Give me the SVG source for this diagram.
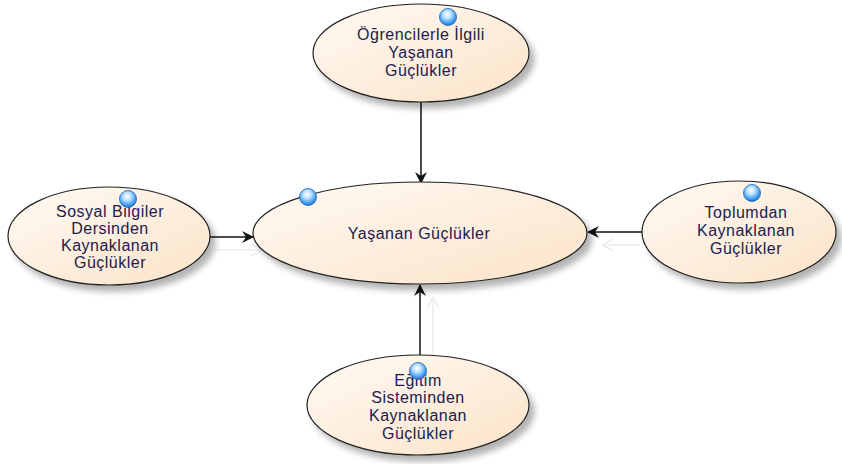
<svg xmlns="http://www.w3.org/2000/svg" width="842" height="464" viewBox="0 0 842 464">
<defs>
<linearGradient id="fillG" x1="0" y1="0" x2="1" y2="1">
<stop offset="0" stop-color="#fffaf4"/>
<stop offset="1" stop-color="#fbe3c8"/>
</linearGradient>
<radialGradient id="ball" cx="0.45" cy="0.35" r="0.65">
<stop offset="0" stop-color="#ffffff"/>
<stop offset="0.35" stop-color="#bfe3ff"/>
<stop offset="0.8" stop-color="#3a9af0"/>
<stop offset="1" stop-color="#1a6fd0"/>
</radialGradient>
<filter id="sh" x="-20%" y="-20%" width="150%" height="160%">
<feGaussianBlur in="SourceAlpha" stdDeviation="3"/>
<feOffset dx="5" dy="6" result="b"/>
<feComponentTransfer><feFuncA type="linear" slope="0.3"/></feComponentTransfer>
<feMerge><feMergeNode/><feMergeNode in="SourceGraphic"/></feMerge>
</filter>
<marker id="arr" markerWidth="12" markerHeight="12" viewBox="0 0 12 12" refX="11" refY="6" orient="auto" markerUnits="userSpaceOnUse">
<path d="M0,0 L12,6 L0,12 L4,6 Z" fill="#111"/>
</marker>
<marker id="arrG" markerWidth="12" markerHeight="12" viewBox="0 0 12 12" refX="11" refY="6" orient="auto" markerUnits="userSpaceOnUse">
<path d="M0,0 L12,6 L0,12" fill="none" stroke="#ececec" stroke-width="1.5"/>
</marker>
</defs>
<style>
.node ellipse.e { fill: url(#fillG); stroke: #222; stroke-width: 1.2; filter: url(#sh); }
.node text { font-family: "Liberation Sans", Arial, sans-serif; font-size: 16px; letter-spacing: 0.5px; fill: #231a4e; text-anchor: middle; }
.ball { fill: url(#ball); stroke: #1c5fb0; stroke-width: 0.8; }
.conn line { stroke: #111; stroke-width: 1.5; marker-end: url(#arr); }
.conn line.ghost { stroke: #ececec; stroke-width: 1.5; marker-end: url(#arrG); }
</style>
<rect width="842" height="464" fill="#ffffff"/>
<g id="connectors" class="conn">
<line class="ghost" x1="215" y1="250" x2="262" y2="250"/>
<line class="ghost" x1="640" y1="245" x2="603" y2="245"/>
<line class="ghost" x1="433" y1="355" x2="433" y2="298"/>
<line x1="421" y1="102" x2="421" y2="183"/>
<line x1="210" y1="237" x2="253" y2="237"/>
<line x1="642" y1="232" x2="588" y2="232"/>
<line x1="420" y1="356" x2="420" y2="285"/>
</g>
<g id="n-center" class="node">
<ellipse class="e" cx="420" cy="233" rx="167" ry="51"/>
<text x="419" y="239">Yaşanan Güçlükler</text>
<circle class="ball" cx="308" cy="197" r="8.5"/>
</g>
<g id="n-top" class="node">
<ellipse class="e" cx="421" cy="53" rx="108" ry="49"/>
<text x="421" y="40">Öğrencilerle İlgili</text>
<text x="421" y="58">Yaşanan</text>
<text x="421" y="76">Güçlükler</text>
<circle class="ball" cx="448" cy="17" r="8.5"/>
</g>
<g id="n-left" class="node">
<ellipse class="e" cx="109" cy="236" rx="101" ry="49"/>
<text x="110" y="217">Sosyal Bilgiler</text>
<text x="110" y="234">Dersinden</text>
<text x="110" y="251">Kaynaklanan</text>
<text x="110" y="268">Güçlükler</text>
<circle class="ball" cx="128" cy="199" r="8.5"/>
</g>
<g id="n-right" class="node">
<ellipse class="e" cx="739" cy="232" rx="97" ry="51"/>
<text x="746" y="218">Toplumdan</text>
<text x="746" y="236">Kaynaklanan</text>
<text x="746" y="254">Güçlükler</text>
<circle class="ball" cx="752" cy="193" r="8.5"/>
</g>
<g id="n-bottom" class="node">
<ellipse class="e" cx="418" cy="405" rx="111" ry="50"/>
<text x="418" y="386">Eğitim</text>
<text x="418" y="403">Sisteminden</text>
<text x="418" y="421">Kaynaklanan</text>
<text x="418" y="439">Güçlükler</text>
<circle class="ball" cx="418" cy="371" r="8.5"/>
</g>
</svg>
